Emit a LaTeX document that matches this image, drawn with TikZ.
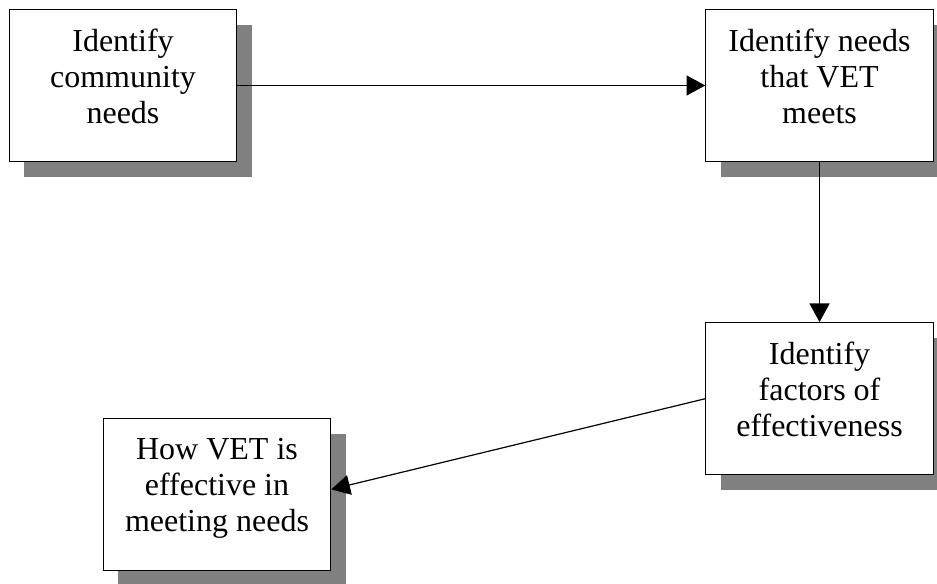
\documentclass[tikz,border=0pt]{standalone}
\usepackage{fontspec}
\setmainfont{Liberation Serif}
\usepackage{tikz}
\usetikzlibrary{arrows.meta, positioning, shadows}

\begin{document}
\begin{tikzpicture}
    \tikzset{
        box/.style={rectangle, draw=black, fill=white, line width=0.9pt, align=center, text depth=14pt, minimum width=170.5pt, minimum height=114pt, font=\fontsize{24}{27}\selectfont, drop shadow={shadow xshift=11.25pt, shadow yshift=-11.25pt, fill=black!50, opacity=1}},
        arrow/.style={draw=black, -{Triangle[length=14pt, width=15pt]}, line width=0.9pt}
    }
    \useasboundingbox (0,0) rectangle (702.75pt,-437.25pt);
    \node [box] (ident) at (92.25pt,-64.125pt) {Identify\\community\\needs};
    \node [box, right=351pt of ident] (needs) {Identify needs\\that VET\\meets};
    \node [box, below=120pt of needs] (factors) {Identify\\factors of\\effectiveness};
    \node [box, left=280.5pt of factors, yshift=-72pt] (how) {How VET is\\effective in\\meeting needs};

    \draw [arrow] (ident) -- (needs);
    \draw [arrow] (needs) -- (factors);
    \draw [arrow] (factors.west) -- ([yshift=4pt]how.east);
\end{tikzpicture}
\end{document}
